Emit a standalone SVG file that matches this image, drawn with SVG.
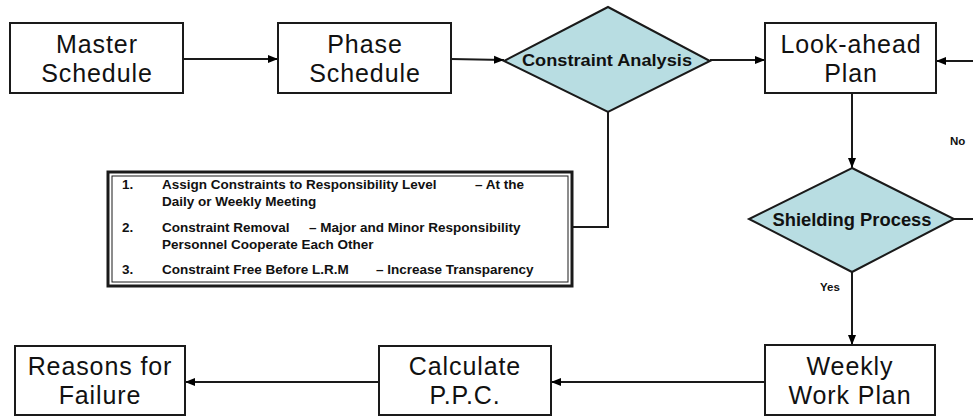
<svg xmlns="http://www.w3.org/2000/svg" width="973" height="417" viewBox="0 0 973 417">
<defs>
<marker id="ah" viewBox="0 0 10 10" refX="10" refY="5" markerWidth="10" markerHeight="10" markerUnits="userSpaceOnUse" orient="auto">
<path d="M0,1 L10,5 L0,9 Z" fill="#000"/>
</marker>
</defs>
<style>
.box{fill:#fff;stroke:#1a1a1a;stroke-width:2}
.dia{fill:#b8dde2;stroke:#1a1a1a;stroke-width:2}
.t{font-family:"Liberation Sans",Arial,sans-serif;font-size:25px;letter-spacing:0.9px;fill:#111;text-anchor:middle}
.b{font-family:"Liberation Sans",Arial,sans-serif;font-weight:bold;fill:#111}
.c{fill:none;stroke:#1a1a1a;stroke-width:2}
.s{font-family:"Liberation Sans",Arial,sans-serif;font-weight:bold;font-size:13.5px;fill:#111}
</style>
<rect width="973" height="417" fill="#fff"/>
<g id="connectors">
<line class="c" x1="183" y1="59" x2="278" y2="59" marker-end="url(#ah)"/>
<line class="c" x1="451" y1="59" x2="504" y2="60" marker-end="url(#ah)"/>
<line class="c" x1="710" y1="60" x2="765" y2="60" marker-end="url(#ah)"/>
<line class="c" x1="973" y1="61" x2="936" y2="61" marker-end="url(#ah)"/>
<polyline class="c" points="608,112 608,227 573,227"/>
<line class="c" x1="852" y1="93" x2="852" y2="168" marker-end="url(#ah)"/>
<line class="c" x1="954" y1="219" x2="973" y2="219"/>
<line class="c" x1="852" y1="272" x2="852" y2="345" marker-end="url(#ah)"/>
<line class="c" x1="765" y1="382" x2="551" y2="382" marker-end="url(#ah)"/>
<line class="c" x1="379" y1="382" x2="185" y2="382" marker-end="url(#ah)"/>
<text class="b" x="950" y="145" font-size="11.5">No</text>
<text class="b" x="820" y="291" font-size="11.5">Yes</text>
</g>
<g id="master">
<rect class="box" x="10" y="23" width="173" height="70"/>
<text class="t" x="97" y="53">Master</text>
<text class="t" x="97" y="82">Schedule</text>
</g>
<g id="phase">
<rect class="box" x="278" y="23" width="173" height="70"/>
<text class="t" x="365" y="53">Phase</text>
<text class="t" x="365" y="82">Schedule</text>
</g>
<g id="constraint">
<polygon class="dia" points="608,7 710,61 608,112 504,61"/>
<text class="b" x="607" y="66" font-size="17" text-anchor="middle" textLength="170" lengthAdjust="spacingAndGlyphs">Constraint Analysis</text>
</g>
<g id="lookahead">
<rect class="box" x="765" y="23" width="171" height="70"/>
<text class="t" x="851" y="53">Look-ahead</text>
<text class="t" x="851" y="82">Plan</text>
</g>
<g id="notes">
<rect x="108" y="172" width="464" height="114" fill="#fff" stroke="#1a1a1a" stroke-width="3"/>
<rect x="112" y="176" width="456" height="106" fill="none" stroke="#1a1a1a" stroke-width="1"/>
<text class="s" x="122" y="189">1.</text>
<text class="s" x="162" y="189">Assign Constraints to Responsibility Level</text>
<text class="s" x="475" y="189">– At the</text>
<text class="s" x="162" y="206">Daily or Weekly Meeting</text>
<text class="s" x="122" y="232">2.</text>
<text class="s" x="162" y="232">Constraint Removal</text>
<text class="s" x="309" y="232">– Major and Minor Responsibility</text>
<text class="s" x="162" y="249">Personnel Cooperate Each Other</text>
<text class="s" x="122" y="274">3.</text>
<text class="s" x="162" y="274">Constraint Free Before L.R.M</text>
<text class="s" x="376" y="274">– Increase Transparency</text>
</g>
<g id="shielding">
<polygon class="dia" points="852,168 954,219 852,272 749,219"/>
<text class="b" x="852" y="226" font-size="18" text-anchor="middle" textLength="159" lengthAdjust="spacingAndGlyphs">Shielding Process</text>
</g>
<g id="weekly">
<rect class="box" x="765" y="345" width="170" height="70"/>
<text class="t" x="850" y="375">Weekly</text>
<text class="t" x="850" y="404">Work Plan</text>
</g>
<g id="ppc">
<rect class="box" x="379" y="346" width="172" height="69"/>
<text class="t" x="465" y="375">Calculate</text>
<text class="t" x="465" y="404">P.P.C.</text>
</g>
<g id="reasons">
<rect class="box" x="15" y="346" width="170" height="69"/>
<text class="t" x="100" y="375">Reasons for</text>
<text class="t" x="100" y="404">Failure</text>
</g>
</svg>
